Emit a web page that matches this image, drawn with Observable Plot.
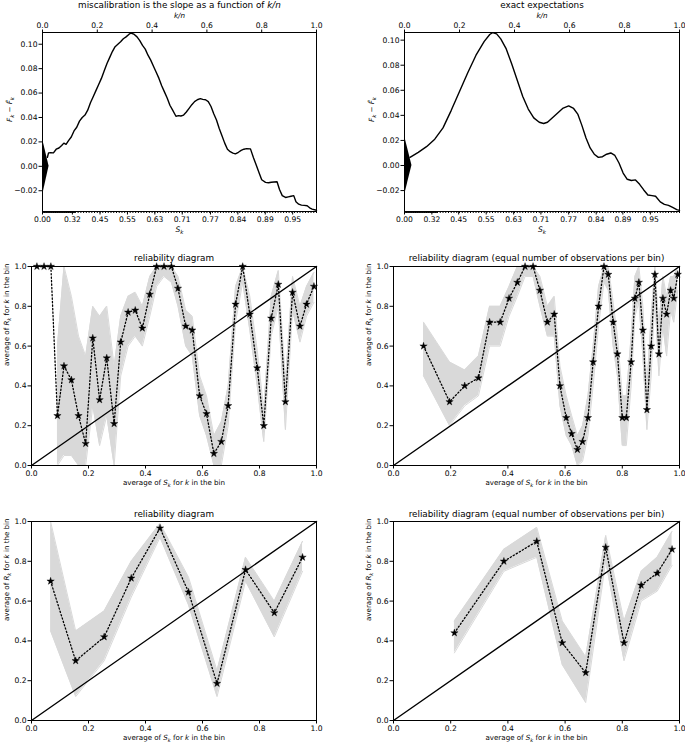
<!DOCTYPE html>
<html><head><meta charset="utf-8">
<script src="https://cdn.jsdelivr.net/npm/d3@7"></script>
<script src="https://cdn.jsdelivr.net/npm/@observablehq/plot@0.6"></script>
<style>
body{margin:0;background:#fff;}
#fig{position:relative;width:685px;height:743px;background:#fff;}
</style></head><body><div id="fig"></div>
<script>
// ---------- top panels: cumulative differences vs k/n ----------
const tlX = [0.018,0.022,0.030,0.040,0.050,0.060,0.070,0.078,0.086,0.095,0.105,0.115,0.125,0.135,0.145,0.155,0.165,0.175,0.185,0.195,0.205,0.215,0.225,0.235,0.245,0.255,0.265,0.275,0.285,0.295,0.305,0.315,0.323,0.335,0.345,0.355,0.365,0.375,0.385,0.395,0.405,0.415,0.425,0.435,0.445,0.455,0.465,0.475,0.487,0.497,0.505,0.515,0.525,0.535,0.545,0.555,0.565,0.576,0.585,0.595,0.605,0.615,0.625,0.635,0.645,0.655,0.665,0.675,0.685,0.695,0.704,0.715,0.725,0.735,0.745,0.759,0.770,0.780,0.790,0.800,0.814,0.825,0.835,0.845,0.856,0.865,0.875,0.887,0.897,0.907,0.917,0.925,0.935,0.945,0.955,0.966,0.975,0.984,1.000];
const tlY = [0.0074,0.0110,0.0112,0.0110,0.0140,0.0150,0.0170,0.0190,0.0180,0.0210,0.0240,0.0290,0.0320,0.0370,0.0400,0.0420,0.0460,0.0520,0.0570,0.0620,0.0670,0.0720,0.0780,0.0840,0.0890,0.0940,0.0980,0.1000,0.1020,0.1045,0.1060,0.1080,0.1092,0.1080,0.1060,0.1030,0.0990,0.0960,0.0910,0.0870,0.0820,0.0770,0.0720,0.0660,0.0610,0.0560,0.0500,0.0460,0.0410,0.0415,0.0412,0.0420,0.0445,0.0475,0.0505,0.0530,0.0545,0.0554,0.0548,0.0545,0.0530,0.0490,0.0430,0.0380,0.0310,0.0250,0.0190,0.0140,0.0120,0.0108,0.0102,0.0115,0.0130,0.0140,0.0145,0.0143,0.0070,0.0010,-0.0050,-0.0110,-0.0131,-0.0135,-0.0130,-0.0128,-0.0126,-0.0190,-0.0240,-0.0255,-0.0250,-0.0245,-0.0240,-0.0290,-0.0310,-0.0318,-0.0320,-0.0323,-0.0340,-0.0350,-0.0360];
const trX = [0.020,0.050,0.080,0.110,0.140,0.170,0.200,0.230,0.260,0.290,0.310,0.320,0.335,0.350,0.370,0.390,0.410,0.430,0.450,0.470,0.490,0.506,0.520,0.550,0.575,0.597,0.615,0.630,0.645,0.660,0.675,0.690,0.705,0.720,0.735,0.750,0.765,0.780,0.795,0.810,0.825,0.840,0.855,0.870,0.885,0.900,0.913,0.930,0.945,0.960,0.975,0.990,1.000];
const trY = [0.0065,0.0105,0.0150,0.0210,0.0300,0.0440,0.0590,0.0740,0.0880,0.0990,0.1045,0.1060,0.1050,0.1010,0.0930,0.0810,0.0680,0.0550,0.0450,0.0380,0.0345,0.0335,0.0345,0.0405,0.0455,0.0476,0.0455,0.0410,0.0320,0.0220,0.0140,0.0090,0.0065,0.0070,0.0090,0.0100,0.0080,0.0020,-0.0060,-0.0110,-0.0120,-0.0115,-0.0150,-0.0195,-0.0235,-0.0240,-0.0245,-0.0290,-0.0310,-0.0318,-0.0335,-0.0352,-0.0358];
const tlTriX = [0, 0.024], tlTriLo = [-0.024, 0], tlTriHi = [0.0225, 0];
const trTriX = [0, 0.027], trTriLo = [-0.024, 0], trTriHi = [0.0237, 0];
const yTicksTop = [-0.02, 0.00, 0.02, 0.04, 0.06, 0.08, 0.10];
const kTicks = [0, 0.2, 0.4, 0.6, 0.8, 1.0];
const sLabels = ["0.00","0.32","0.45","0.55","0.63","0.71","0.77","0.84","0.89","0.95"];
const tlSPos = [0, 0.109, 0.21, 0.31, 0.41, 0.51, 0.613, 0.713, 0.813, 0.913];
const trSPos = [0, 0.0995, 0.197, 0.297, 0.397, 0.496, 0.597, 0.697, 0.794, 0.894];
const minorPos = d3.range(0, 0.12, 0.0025).concat(d3.range(0.12, 1.0001, 0.01));

// ---------- reliability diagrams ----------
const unitTicks = [0, 0.2, 0.4, 0.6, 0.8, 1.0];
const mlX = [0.019,0.044,0.068,0.091,0.114,0.140,0.165,0.190,0.215,0.239,0.264,0.290,0.313,0.339,0.364,0.389,0.415,0.439,0.465,0.491,0.514,0.541,0.564,0.590,0.614,0.640,0.666,0.690,0.716,0.741,0.766,0.792,0.815,0.841,0.866,0.891,0.916,0.942,0.965,0.991];
const mlY = [1,1,1,0.25,0.50,0.43,0.25,0.11,0.64,0.33,0.54,0.21,0.62,0.77,0.78,0.69,0.86,1,1,1,0.89,0.70,0.68,0.35,0.26,0.06,0.12,0.30,0.81,1.0,0.76,0.49,0.20,0.74,0.91,0.32,0.87,0.70,0.81,0.90];
const mlLo = [1,1,1,0.00,0.05,0.05,0.00,0.00,0.30,0.10,0.25,0.00,0.45,0.60,0.65,0.60,0.75,0.90,0.95,0.92,0.80,0.60,0.55,0.25,0.15,0.00,0.00,0.20,0.72,0.92,0.68,0.40,0.12,0.65,0.80,0.18,0.78,0.62,0.75,0.82];
const mlHi = [1,1,1,0.60,1.00,0.85,0.65,0.55,0.80,0.75,0.80,0.50,0.75,0.85,0.87,0.80,0.95,1,1,1,0.95,0.78,0.75,0.45,0.35,0.15,0.22,0.40,0.90,1,0.85,0.58,0.28,0.85,0.98,0.42,0.95,0.80,0.90,0.97];

const mrX = [0.105,0.196,0.249,0.297,0.336,0.373,0.404,0.433,0.460,0.488,0.512,0.538,0.562,0.582,0.604,0.623,0.643,0.661,0.680,0.698,0.717,0.736,0.751,0.768,0.783,0.800,0.814,0.831,0.844,0.858,0.872,0.886,0.901,0.914,0.928,0.942,0.955,0.969,0.980,0.994];
const mrY = [0.60,0.32,0.40,0.44,0.72,0.72,0.84,0.92,1.00,1.00,0.88,0.72,0.76,0.40,0.24,0.16,0.08,0.12,0.24,0.52,0.80,1.00,0.96,0.72,0.56,0.24,0.24,0.52,0.84,0.92,0.68,0.28,0.60,0.96,0.56,0.84,0.76,0.88,0.84,0.96];
const mrLo = [0.45,0.20,0.30,0.35,0.60,0.60,0.75,0.85,0.95,0.95,0.80,0.65,0.65,0.30,0.15,0.10,0.00,0.02,0.15,0.40,0.70,0.92,0.88,0.60,0.45,0.10,0.10,0.40,0.75,0.82,0.55,0.18,0.45,0.85,0.45,0.70,0.55,0.78,0.72,0.88];
const mrHi = [0.72,0.52,0.48,0.55,0.80,0.80,0.90,1.00,1.00,1.00,0.95,0.80,0.85,0.50,0.35,0.25,0.15,0.20,0.35,0.60,0.90,1.00,1.00,0.82,0.65,0.35,0.35,0.65,0.95,1.00,0.80,0.40,0.75,1.00,0.70,0.95,0.85,0.95,0.95,1.00];

const blX = [0.067,0.155,0.255,0.350,0.451,0.551,0.651,0.751,0.852,0.951];
const blY = [0.70,0.30,0.42,0.715,0.967,0.645,0.186,0.758,0.541,0.820];
const blLo = [0.45,0.12,0.30,0.62,0.92,0.58,0.12,0.70,0.42,0.75];
const blHi = [1.00,0.45,0.55,0.80,0.99,0.72,0.25,0.82,0.60,0.90];

const brX = [0.213,0.386,0.501,0.590,0.672,0.742,0.806,0.866,0.922,0.974];
const brY = [0.44,0.80,0.90,0.39,0.24,0.87,0.39,0.68,0.74,0.86];
const brLo = [0.34,0.75,0.82,0.28,0.09,0.80,0.30,0.60,0.65,0.78];
const brHi = [0.50,0.86,0.97,0.50,0.32,0.93,0.50,0.75,0.82,0.95];

const diag = [0, 1];

// ---------- helpers ----------
const NS = "http://www.w3.org/2000/svg";
function rich(svg, key, parts, size) {
  svg.querySelectorAll("text").forEach(t => {
    if (t.textContent !== key) return;
    while (t.firstChild) t.removeChild(t.firstChild);
    let sub = false;
    for (const [s, it, sb] of parts) {
      const ts = document.createElementNS(NS, "tspan");
      ts.textContent = s;
      if (it) ts.setAttribute("font-style", "italic");
      if (sb) {
        ts.setAttribute("font-size", (size * 0.72).toFixed(2));
        if (!sub) { ts.setAttribute("dy", (size * 0.28).toFixed(2)); sub = true; }
      } else if (sub) { ts.setAttribute("dy", (-size * 0.28).toFixed(2)); sub = false; }
      t.appendChild(ts);
    }
  });
}
function place(svg, left, top) {
  svg.style.position = "absolute";
  svg.style.left = left + "px";
  svg.style.top = top + "px";
  document.getElementById("fig").appendChild(svg);
}
const baseStyle = "font-family:'DejaVu Sans',sans-serif;font-size:7.6px;color:black;background:transparent;overflow:visible;";
const xLabParts = l => [["average of "],[l,1],["k",1,1],[" for "],["k",1],[" in the bin"]];

function topPanel(o) {
  const curve = o.xs.map((x, i) => ({x, y: o.ys[i]}));
  const tri = o.triX.map((x, i) => ({x, lo: o.triLo[i], hi: o.triHi[i]}));
  const lab = new Map(o.sPos.map((p, i) => [p, sLabels[i]]));
  const svg = Plot.plot({
    width: o.w, height: o.h, marginLeft: o.ml, marginRight: o.mr, marginTop: o.mt, marginBottom: o.mb,
    style: baseStyle,
    x: {domain: [0, 1]}, y: {domain: o.ydom},
    marks: [
      Plot.areaY(tri, {x: "x", y1: "lo", y2: "hi", fill: "black"}),
      Plot.line(curve, {x: "x", y: "y", stroke: "black", strokeWidth: 1.4}),
      Plot.frame({stroke: "black", strokeWidth: 1}),
      Plot.axisY(yTicksTop, {anchor: "left", tickSize: 3.5, tickPadding: 1.5, tickFormat: d3.format(".2f"), label: null}),
      Plot.axisX(kTicks, {anchor: "top", tickSize: 3.5, tickPadding: 1.5, tickFormat: d3.format(".1f"), label: null}),
      Plot.axisX(minorPos, {anchor: "bottom", tickSize: 2, tickFormat: () => "", label: null}),
      Plot.axisX(o.sPos, {anchor: "bottom", tickSize: 3.5, tickPadding: 1.5, tickFormat: d => lab.get(d), label: null}),
      Plot.text(["@TITLE"], {frameAnchor: "top", lineAnchor: "middle", dy: -27.5, fontSize: 8.8}),
      Plot.text(["@KN"], {frameAnchor: "top", lineAnchor: "middle", dy: -17, fontSize: 7.2}),
      Plot.text(["@SK"], {frameAnchor: "bottom", lineAnchor: "middle", dy: 18, fontSize: 7.6}),
      Plot.text(["@FL"], {frameAnchor: "left", lineAnchor: "middle", dx: -33, rotate: -90, fontSize: 7.2})
    ]
  });
  rich(svg, "@TITLE", o.title, 8.8);
  rich(svg, "@KN", [["k/n", 1]], 7.2);
  rich(svg, "@SK", [["S", 1], ["k", 1, 1]], 7.6);
  rich(svg, "@FL", [["F", 1], ["k", 1, 1], [" \u2212 "], ["F\u0303", 1], ["k", 1, 1]], 7.2);
  place(svg, o.left, o.top);
}

function relPanel(o) {
  const pts = o.xs.map((x, i) => ({x, y: o.ys[i], lo: o.lo[i], hi: o.hi[i]}));
  const band = pts.filter(d => d.hi > d.lo || d.hi < 1);
  const svg = Plot.plot({
    width: o.w, height: o.h, marginLeft: o.ml, marginRight: o.mr, marginTop: o.mt, marginBottom: o.mb,
    style: baseStyle,
    x: {domain: [0, 1]}, y: {domain: [0, 1]},
    marks: [
      Plot.areaY(band, {x: "x", y1: "lo", y2: "hi", fill: "#d9d9d9"}),
      Plot.line(band, {x: "x", y: "lo", stroke: "#d9d9d9", strokeWidth: 1}),
      Plot.line(band, {x: "x", y: "hi", stroke: "#d9d9d9", strokeWidth: 1}),
      Plot.line(diag, {x: d => d, y: d => d, stroke: "black", strokeWidth: 1.4}),
      Plot.line(pts, {x: "x", y: "y", stroke: "black", strokeWidth: 1.3, strokeDasharray: "1.3,2.2"}),
      Plot.dot(pts, {x: "x", y: "y", symbol: "star", r: 2.3, fill: "black", stroke: "black", strokeWidth: 0.4}),
      Plot.frame({stroke: "black", strokeWidth: 1}),
      Plot.axisY(unitTicks, {anchor: "left", tickSize: 3.5, tickPadding: 1.5, tickFormat: d3.format(".1f"), label: null}),
      Plot.axisX(unitTicks, {anchor: "bottom", tickSize: 3.5, tickPadding: 1.5, tickFormat: d3.format(".1f"), label: null}),
      Plot.text([o.title], {frameAnchor: "top", lineAnchor: "middle", dy: o.titleDy, fontSize: 8.8}),
      Plot.text(["@XL"], {frameAnchor: "bottom", lineAnchor: "middle", dy: o.xlDy, fontSize: 7.1}),
      Plot.text(["@YL"], {frameAnchor: "left", lineAnchor: "middle", dx: -25, rotate: -90, fontSize: 7.1})
    ]
  });
  rich(svg, "@XL", xLabParts("S"), 7.1);
  rich(svg, "@YL", xLabParts("R"), 7.1);
  place(svg, o.left, o.top);
}

// ---------- draw ----------
topPanel({xs: tlX, ys: tlY, triX: tlTriX, triLo: tlTriLo, triHi: tlTriHi, sPos: tlSPos,
  ydom: [-0.037, 0.1096], left: 0, top: 0, w: 340, h: 240, ml: 42, mr: 24, mt: 32, mb: 29,
  title: [["miscalibration is the slope as a function of "], ["k/n", 1]]});
topPanel({xs: trX, ys: trY, triX: trTriX, triLo: trTriLo, triHi: trTriHi, sPos: trSPos,
  ydom: [-0.0367, 0.1061], left: 340, top: 0, w: 345, h: 240, ml: 64, mr: 6, mt: 32, mb: 29,
  title: [["exact expectations"]]});
relPanel({xs: mlX, ys: mlY, lo: mlLo, hi: mlHi, left: 0, top: 245, w: 340, h: 250,
  ml: 31, mr: 24, mt: 21, mb: 30, title: "reliability diagram", titleDy: -8.5, xlDy: 17});
relPanel({xs: mrX, ys: mrY, lo: mrLo, hi: mrHi, left: 340, top: 245, w: 345, h: 250,
  ml: 53, mr: 6, mt: 21, mb: 30, title: "reliability diagram (equal number of observations per bin)", titleDy: -8.5, xlDy: 17});
relPanel({xs: blX, ys: blY, lo: blLo, hi: blHi, left: 0, top: 500, w: 340, h: 243,
  ml: 31, mr: 24, mt: 21, mb: 23, title: "reliability diagram", titleDy: -7.5, xlDy: 17.5});
relPanel({xs: brX, ys: brY, lo: brLo, hi: brHi, left: 340, top: 500, w: 345, h: 243,
  ml: 53, mr: 6, mt: 21, mb: 23, title: "reliability diagram (equal number of observations per bin)", titleDy: -7.5, xlDy: 17.5});
</script></body></html>
